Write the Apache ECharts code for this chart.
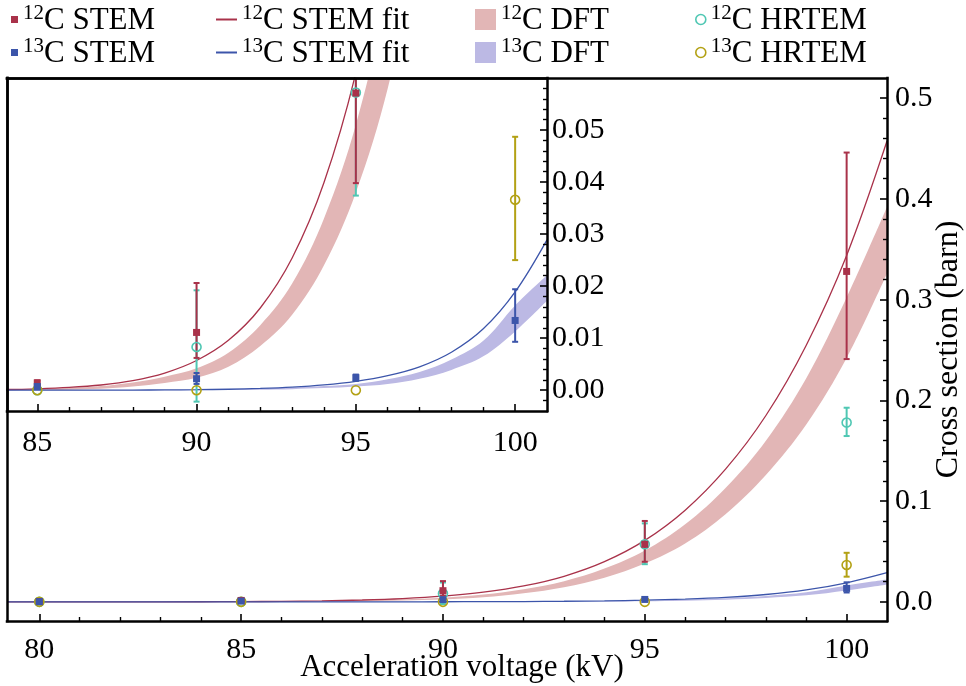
<!DOCTYPE html>
<html>
<head>
<meta charset="utf-8">
<script src="https://cdn.jsdelivr.net/npm/echarts@6/dist/echarts.min.js"></script>
<style>
  html, body { margin: 0; padding: 0; background: #fff; }
  #chart { width: 966px; height: 686px; }
</style>
</head>
<body>
<div id="chart"></div>
<script>
// Measured displacement cross sections (barn) vs acceleration voltage (kV)
const voltage = [80, 85, 90, 95, 100];

const stem12   = [0.0003, 0.0014, 0.0111, 0.0571, 0.3280];
const stem12Lo = [0.0001, 0.0010, 0.0062, 0.0398, 0.2410];
const stem12Hi = [0.0005, 0.0019, 0.0206, 0.0803, 0.4460];

const stem13   = [0.0002, 0.0007, 0.0022, 0.0024, 0.0134];
const stem13Lo = [0.0000, 0.0003, 0.0012, 0.0018, 0.0093];
const stem13Hi = [0.0004, 0.0011, 0.0033, 0.0030, 0.0194];

const hrtem12   = [0.0000, 0.0000, 0.0083, 0.0572, 0.1780];
const hrtem12Lo = [0.0000, 0.0000, -0.0022, 0.0374, 0.1646];
const hrtem12Hi = [0.0000, 0.0000, 0.0192, 0.0779, 0.1927];

const hrtem13   = [0.0000, 0.0000, 0.0000, 0.0000, 0.0366];
const hrtem13Lo = [0.0000, 0.0000, 0.0000, 0.0000, 0.0250];
const hrtem13Hi = [0.0000, 0.0000, 0.0000, 0.0000, 0.0487];

// Fitted curves to the STEM data
const fitVoltage = [79.2, 80, 82, 84, 85, 86, 87, 88, 89, 90, 91, 92, 93, 94, 95, 96, 97, 98, 99, 100, 101];
const fit12 = [0, 0.000003, 0.00002, 0.00013, 0.00027, 0.00053, 0.0010, 0.00184, 0.00329, 0.0057,
               0.00959, 0.0158, 0.0254, 0.0399, 0.0610, 0.0910, 0.1317, 0.1850, 0.2548, 0.3439, 0.4574];
const fit13 = [0, 0, 0, 0.000002, 0.000004, 0.000007, 0.000013, 0.00003, 0.00005, 0.0001,
               0.00018, 0.00033, 0.00058, 0.00101, 0.0017, 0.0028, 0.0045, 0.0073, 0.0118, 0.0189, 0.0289];

// DFT predictions (lower / upper bound of the band)
const dftVoltage = [79.2, 80, 82, 84, 85, 86, 87, 88, 89, 90, 91, 92, 93, 94, 95, 96, 97, 98, 99, 100, 101];
const dft12Lo = [0, 0, 0, 0, 0, 0.0001, 0.0003, 0.0007, 0.0014, 0.0024, 0.0045, 0.0085, 0.0145, 0.024, 0.038, 0.058, 0.087, 0.126, 0.176, 0.242, 0.326];
const dft12Hi = [0, 0, 0, 0.0001, 0.0002, 0.0004, 0.0008, 0.0015, 0.0026, 0.0042, 0.0072, 0.0125, 0.0205, 0.033, 0.051, 0.077, 0.113, 0.160, 0.222, 0.302, 0.392];
const dft13Lo = [0, 0, 0, 0, 0, 0, 0, 0, 0, 0.00001, 0.00003, 0.0001, 0.0002, 0.0004, 0.0007, 0.0012, 0.0022, 0.0039, 0.0065, 0.0113, 0.0172];
const dft13Hi = [0, 0, 0, 0, 0, 0.00001, 0.00002, 0.00003, 0.00005, 0.0001, 0.0002, 0.0003, 0.0005, 0.0008, 0.0012, 0.0021, 0.0035, 0.0059, 0.0095, 0.0163, 0.0221];

// Axis ticks
const xTicksMain  = [80, 85, 90, 95, 100];
const xTicksInset = [85, 90, 95, 100];
const yTicksMain  = [0, 0.1, 0.2, 0.3, 0.4, 0.5];
const yTicksInset = [0, 0.01, 0.02, 0.03, 0.04, 0.05];

const FONT = 'Liberation Serif';
const C = {
  red: '#A9324A', blue: '#3C55AA', pink: '#E2B6B6', lav: '#BCB9E4',
  cyan: '#4FC7B3', olive: '#B3A114'
};
const SMOOTH = 0.35;

const pairs = (xs, ys) => xs.map((x, i) => [x, ys[i]]);
const triples = (xs, a, b) => xs.map((x, i) => [x, a[i], b[i]]);

function minorTicks(major, step, lo, hi) {
  const out = [];
  for (let k = Math.ceil(lo / step - 1e-9); k * step <= hi + 1e-12; k++) {
    const v = +(k * step).toFixed(6);
    if (!major.some(m => Math.abs(m - v) < step / 10)) out.push(v);
  }
  return out;
}

function errorBars(name, xs, lo, hi, color, xi, yi) {
  return {
    type: 'custom', name: name, xAxisIndex: xi, yAxisIndex: yi, clip: true, z: 3,
    encode: { x: 0, y: [1, 2] },
    data: triples(xs, lo, hi),
    renderItem: function (params, api) {
      const x = api.value(0), l = api.value(1), h = api.value(2);
      if (l === h) return null;
      const p1 = api.coord([x, l]), p2 = api.coord([x, h]);
      const cw = 3;
      const st = { stroke: color, lineWidth: 2 };
      return {
        type: 'group', children: [
          { type: 'line', shape: { x1: p1[0], y1: p1[1], x2: p2[0], y2: p2[1] }, style: st },
          { type: 'line', shape: { x1: p1[0] - cw, y1: p1[1], x2: p1[0] + cw, y2: p1[1] }, style: st },
          { type: 'line', shape: { x1: p2[0] - cw, y1: p2[1], x2: p2[0] + cw, y2: p2[1] }, style: st }
        ]
      };
    }
  };
}

// A DFT band: the upper bound filled in colour, then the area under the
// lower bound painted back to white.
function band(name, lo, hi, color, xi, yi) {
  const area = (nm, ys, fill) => ({
    type: 'line', name: nm, xAxisIndex: xi, yAxisIndex: yi, z: 1,
    data: pairs(dftVoltage, ys), smooth: SMOOTH, symbol: 'none', silent: true,
    lineStyle: { width: 0 }, itemStyle: { color: fill },
    areaStyle: { color: fill, opacity: 1, origin: 'start' }
  });
  return [area(name, hi, color), area(name + ' lower', lo, '#ffffff')];
}

function fitLine(name, ys, color, xi, yi) {
  return {
    type: 'line', name: name, xAxisIndex: xi, yAxisIndex: yi, z: 2,
    data: pairs(fitVoltage, ys), smooth: SMOOTH, symbol: 'none',
    lineStyle: { color: color, width: 1.3 }, itemStyle: { color: color }
  };
}

function markers(name, ys, color, hollow, xi, yi) {
  return {
    type: 'scatter', name: name, xAxisIndex: xi, yAxisIndex: yi, clip: true, z: 4,
    data: pairs(voltage, ys),
    symbol: hollow ? 'circle' : 'rect',
    symbolSize: hollow ? 9 : 7,
    itemStyle: hollow
      ? { color: 'rgba(255,255,255,0)', borderColor: color, borderWidth: 1.6, opacity: 1 }
      : { color: color, opacity: 1 }
  };
}

function seriesFor(xi, yi) {
  return [].concat(
    band('12C DFT', dft12Lo, dft12Hi, C.pink, xi, yi),
    band('13C DFT', dft13Lo, dft13Hi, C.lav, xi, yi),
    [
      fitLine('12C STEM fit', fit12, C.red, xi, yi),
      fitLine('13C STEM fit', fit13, C.blue, xi, yi),
      errorBars('12C HRTEM bars', voltage, hrtem12Lo, hrtem12Hi, C.cyan, xi, yi),
      markers('12C HRTEM', hrtem12, C.cyan, true, xi, yi),
      errorBars('13C HRTEM bars', voltage, hrtem13Lo, hrtem13Hi, C.olive, xi, yi),
      markers('13C HRTEM', hrtem13, C.olive, true, xi, yi),
      errorBars('12C STEM bars', voltage, stem12Lo, stem12Hi, C.red, xi, yi),
      markers('12C STEM', stem12, C.red, false, xi, yi),
      errorBars('13C STEM bars', voltage, stem13Lo, stem13Hi, C.blue, xi, yi),
      markers('13C STEM', stem13, C.blue, false, xi, yi)
    ]
  );
}

const tickLabel = { fontFamily: FONT, fontSize: 30, color: '#000' };
const frameLine = { show: true, onZero: false, lineStyle: { color: '#000', width: 2.5, cap: 'square' } };

function majorAxis(gridIndex, range, position, ticks, fmt, margin, extra) {
  return Object.assign({
    type: 'value', gridIndex: gridIndex, min: range[0], max: range[1], position: position, z: 10,
    axisLine: frameLine, splitLine: { show: false },
    axisTick: { show: true, inside: true, length: 7, customValues: ticks, lineStyle: { color: '#000', width: 1.6 } },
    axisLabel: Object.assign({ show: true, customValues: ticks, margin: margin, formatter: fmt }, tickLabel)
  }, extra || {});
}
function minorAxis(gridIndex, range, position, ticks) {
  return {
    type: 'value', gridIndex: gridIndex, min: range[0], max: range[1], position: position, z: 10,
    axisLine: { show: false, onZero: false }, splitLine: { show: false }, axisLabel: { show: false },
    axisTick: { show: true, inside: true, length: 4, customValues: ticks, lineStyle: { color: '#000', width: 1.4 } }
  };
}
function frameAxis(gridIndex, range, position) {
  return {
    type: 'value', gridIndex: gridIndex, min: range[0], max: range[1], position: position, z: 10,
    axisLine: frameLine, splitLine: { show: false }, axisLabel: { show: false }, axisTick: { show: false }
  };
}

const mainX = [79.2, 101], mainY = [-0.019, 0.52];
const insetX = [84.05, 101], insetY = [-0.004, 0.06];

const supRich = {
  s: { fontFamily: FONT, fontSize: 21, lineHeight: 21, verticalAlign: 'top', color: '#000' },
  t: { fontFamily: FONT, fontSize: 31, lineHeight: 33, verticalAlign: 'bottom', color: '#000' }
};
function supName(name) {
  const m = name.match(/^(\d+)(.*)$/);
  return '{s|' + m[1] + '}{t|' + m[2] + '}';
}
function legendCol(left, w, h, gap, items) {
  return {
    orient: 'vertical', left: left, top: 3, padding: 0, itemGap: 0,
    itemWidth: w, itemHeight: h, itemTextGap: gap, selectedMode: false,
    formatter: supName,
    textStyle: { fontFamily: FONT, fontSize: 31, color: '#000', rich: supRich },
    data: items
  };
}
const hollow = c => ({ color: 'rgba(255,255,255,0)', borderColor: c, borderWidth: 1.6 });

const option = {
  animation: false,
  backgroundColor: '#fff',
  legend: [
    legendCol(11, 7, 7, 8, [
      { name: '12C STEM', icon: 'rect', itemStyle: { color: C.red } },
      { name: '13C STEM', icon: 'rect', itemStyle: { color: C.blue } }
    ]),
    legendCol(216, 21, 2, 11, [
      { name: '12C STEM fit', icon: 'rect', itemStyle: { color: C.red } },
      { name: '13C STEM fit', icon: 'rect', itemStyle: { color: C.blue } }
    ]),
    legendCol(475, 21, 21, 11, [
      { name: '12C DFT', icon: 'rect', itemStyle: { color: C.pink } },
      { name: '13C DFT', icon: 'rect', itemStyle: { color: C.lav } }
    ]),
    legendCol(695, 10, 10, 13, [
      { name: '12C HRTEM', icon: 'circle', itemStyle: hollow(C.cyan) },
      { name: '13C HRTEM', icon: 'circle', itemStyle: hollow(C.olive) }
    ])
  ],
  grid: [
    { left: 7, top: 78, width: 880, height: 543, show: false, containLabel: false, outerBoundsMode: 'none' },
    { left: 7, top: 78, width: 540, height: 333, show: true, borderWidth: 0, backgroundColor: '#fff',
      containLabel: false, outerBoundsMode: 'none' }
  ],
  xAxis: [
    majorAxis(0, mainX, 'bottom', xTicksMain, v => String(v), 14, {
      name: 'Acceleration voltage (kV)', nameLocation: 'middle', nameGap: 31, nameMoveOverlap: false,
      nameTextStyle: { fontFamily: FONT, fontSize: 31, color: '#000', padding: [0, 0, 0, 30] }
    }),
    minorAxis(0, mainX, 'bottom', minorTicks(xTicksMain, 1, 80, 100)),
    frameAxis(0, mainX, 'top'),
    majorAxis(1, insetX, 'bottom', xTicksInset, v => String(v), 17),
    minorAxis(1, insetX, 'bottom', minorTicks(xTicksInset, 1, 85, 100)),
    frameAxis(1, insetX, 'top')
  ],
  yAxis: [
    majorAxis(0, mainY, 'right', yTicksMain, v => v.toFixed(1), 8, {
      name: 'Cross section (barn)', nameLocation: 'middle', nameRotate: 90, nameGap: 46, nameMoveOverlap: false,
      nameTextStyle: { fontFamily: FONT, fontSize: 32, color: '#000' }
    }),
    minorAxis(0, mainY, 'right', minorTicks(yTicksMain, 0.02, 0, 0.48)),
    frameAxis(0, mainY, 'left'),
    majorAxis(1, insetY, 'right', yTicksInset, v => v.toFixed(2), 5),
    minorAxis(1, insetY, 'right', minorTicks(yTicksInset, 0.002, -0.002, 0.058)),
    frameAxis(1, insetY, 'left')
  ],
  series: [].concat(seriesFor(0, 0), seriesFor(3, 3))
};

echarts.init(document.getElementById('chart'), null, { renderer: 'canvas' }).setOption(option);
</script>
</body>
</html>
